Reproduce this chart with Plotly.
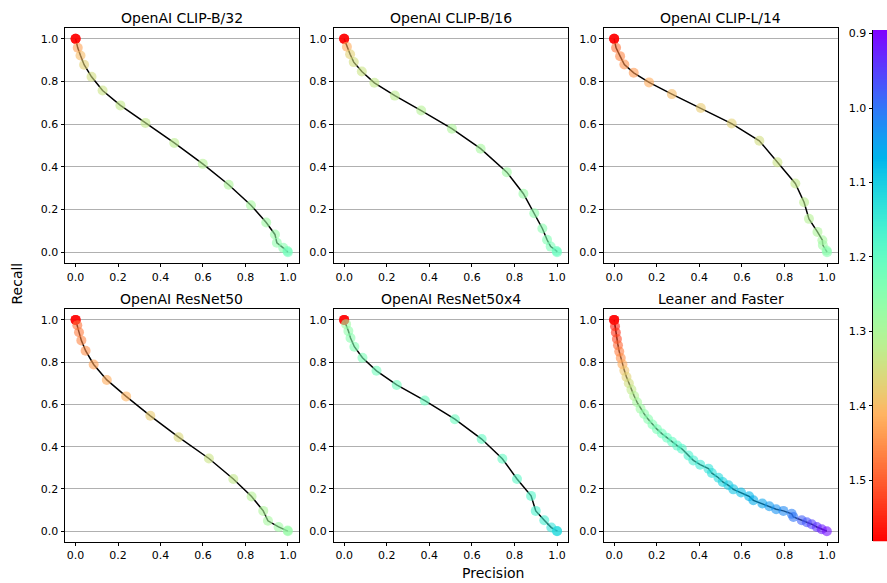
import numpy as np
import plotly.graph_objects as go

# ---------------- data ----------------
titles = ["OpenAI CLIP-B/32", "OpenAI CLIP-B/16", "OpenAI CLIP-L/14",
          "OpenAI ResNet50", "OpenAI ResNet50x4", "Leaner and Faster"]

b32_prec = [0.0, 0.0, 0.0, 0.01, 0.023, 0.04, 0.075, 0.127, 0.211, 0.329, 0.465, 0.599,
            0.721, 0.826, 0.898, 0.939, 0.948, 0.978, 0.998, 1.0]
b32_rec = [1.0, 1.0, 1.0, 0.958, 0.922, 0.879, 0.822, 0.758, 0.688, 0.606, 0.512, 0.414,
           0.316, 0.220, 0.139, 0.083, 0.044, 0.020, 0.005, 0.0]
b32_thr = [1.58, 1.58, 1.58, 1.43, 1.40, 1.37, 1.35, 1.34, 1.33, 1.33, 1.32, 1.31,
           1.30, 1.29, 1.28, 1.27, 1.26, 1.25, 1.23, 1.22]

b16_prec = [0.0, 0.0, 0.0, 0.013, 0.028, 0.045, 0.083, 0.142, 0.238, 0.362, 0.506, 0.641,
            0.764, 0.842, 0.893, 0.931, 0.953, 0.970, 0.998, 1.0]
b16_rec = [1.0, 1.0, 1.0, 0.963, 0.928, 0.891, 0.847, 0.794, 0.734, 0.664, 0.579, 0.485,
           0.375, 0.274, 0.182, 0.111, 0.058, 0.026, 0.005, 0.0]
b16_thr = [1.58, 1.58, 1.58, 1.42, 1.37, 1.35, 1.34, 1.33, 1.32, 1.31, 1.30, 1.29,
           1.28, 1.27, 1.26, 1.25, 1.24, 1.23, 1.21, 1.21]

l14_prec = [0.0, 0.0, 0.0, 0.009, 0.028, 0.048, 0.092, 0.164, 0.271, 0.407, 0.552, 0.682,
            0.767, 0.851, 0.892, 0.915, 0.955, 0.978, 0.980, 0.998, 1.0]
l14_rec = [1.0, 1.0, 1.0, 0.958, 0.919, 0.880, 0.841, 0.796, 0.741, 0.676, 0.603, 0.522,
           0.421, 0.322, 0.234, 0.156, 0.095, 0.056, 0.033, 0.008, 0.0]
l14_thr = [1.58, 1.58, 1.58, 1.48, 1.46, 1.45, 1.44, 1.42, 1.40, 1.38, 1.37, 1.35,
           1.34, 1.33, 1.32, 1.31, 1.30, 1.29, 1.28, 1.26, 1.25]

rn50_prec = [0.0, 0.0, 0.0, 0.008, 0.016, 0.027, 0.047, 0.085, 0.147, 0.238, 0.352, 0.485,
             0.628, 0.743, 0.829, 0.884, 0.906, 0.956, 0.999, 1.0]
rn50_rec = [1.0, 1.0, 1.0, 0.975, 0.942, 0.903, 0.854, 0.789, 0.716, 0.638, 0.546, 0.445,
            0.344, 0.247, 0.164, 0.096, 0.049, 0.020, 0.003, 0.0]
rn50_thr = [1.58, 1.58, 1.58, 1.48, 1.47, 1.46, 1.45, 1.43, 1.42, 1.41, 1.38, 1.36,
            1.34, 1.33, 1.31, 1.30, 1.29, 1.28, 1.27, 1.27]

rn50x4_prec = [0.0, 0.0, 0.0, 0.009, 0.020, 0.030, 0.048, 0.086, 0.152, 0.247, 0.379, 0.520,
               0.646, 0.743, 0.812, 0.878, 0.900, 0.940, 0.973, 1.0, 1.0]
rn50x4_rec = [1.0, 1.0, 1.0, 0.98, 0.947, 0.914, 0.873, 0.821, 0.759, 0.692, 0.618, 0.530,
              0.436, 0.343, 0.247, 0.167, 0.096, 0.052, 0.017, 0.001, 0.0]
rn50x4_thr = [1.58, 1.58, 1.58, 1.28, 1.26, 1.25, 1.24, 1.23, 1.22, 1.22, 1.21, 1.21,
              1.20, 1.20, 1.19, 1.18, 1.17, 1.16, 1.14, 1.12, 1.12]

lf_prec = [0.0, 0.0, 0.0, 0.004, 0.008, 0.013, 0.018, 0.024, 0.031, 0.039, 0.048, 0.058,
           0.069, 0.081, 0.094, 0.108, 0.124, 0.141, 0.160, 0.180, 0.201, 0.224,
           0.248, 0.272, 0.296,
           0.318, 0.349, 0.372, 0.404, 0.443, 0.459, 0.490, 0.510, 0.537, 0.560,
           0.596, 0.634, 0.654, 0.696, 0.729, 0.761, 0.795, 0.834, 0.842, 0.881,
           0.905, 0.928, 0.952, 0.975, 0.999]
lf_rec = [1.0, 1.0, 1.0, 0.97, 0.94, 0.91, 0.88, 0.85, 0.82, 0.79, 0.76, 0.73,
          0.70, 0.67, 0.64, 0.61, 0.58, 0.555, 0.53, 0.505, 0.483, 0.462,
          0.442, 0.423, 0.405,
          0.390, 0.358, 0.335, 0.315, 0.296, 0.275, 0.253, 0.233, 0.217, 0.198,
          0.183, 0.165, 0.146, 0.131, 0.118, 0.104, 0.096, 0.082, 0.067, 0.052,
          0.042, 0.033, 0.020, 0.009, 0.0]
lf_thr = [1.58, 1.58, 1.58, 1.56, 1.54, 1.52, 1.49, 1.47, 1.45, 1.42, 1.39, 1.37,
          1.35, 1.33, 1.31, 1.29, 1.28, 1.26, 1.25, 1.24, 1.23, 1.22,
          1.21, 1.20, 1.19,
          1.18, 1.17, 1.16, 1.15, 1.14, 1.13, 1.12, 1.11, 1.10, 1.09,
          1.08, 1.07, 1.06, 1.05, 1.04, 1.03, 1.02, 1.01, 1.00, 0.98,
          0.97, 0.95, 0.94, 0.92, 0.91]

series = [(b32_prec, b32_rec, b32_thr), (b16_prec, b16_rec, b16_thr),
          (l14_prec, l14_rec, l14_thr), (rn50_prec, rn50_rec, rn50_thr),
          (rn50x4_prec, rn50x4_rec, rn50x4_thr), (lf_prec, lf_rec, lf_thr)]

tick_vals = [0.0, 0.2, 0.4, 0.6, 0.8, 1.0]
cbar_ticks = [0.9, 1.0, 1.1, 1.2, 1.3, 1.4, 1.5]
VMIN, VMAX = 0.895, 1.582

# ---------------- style / layout helpers ----------------
FONT = "DejaVu Sans"
FW, FH = 887, 583


def px_x(px):
    return px / FW


def px_y(py):
    return 1 - py / FH


def rainbow(t):
    r = min(max(abs(2 * t - 0.5), 0.0), 1.0)
    g = min(max(np.sin(np.pi * t), 0.0), 1.0)
    b = min(max(np.cos(np.pi * t / 2), 0.0), 1.0)
    return f"rgb({int(round(r * 255))},{int(round(g * 255))},{int(round(b * 255))})"


colorscale = [[float(t), rainbow(t)] for t in np.linspace(0, 1, 41)]

col_px = [(65.0, 298.5), (333.5, 567.7), (603.5, 837.7)]
row_px = [(26.3, 261.7), (308.4, 541.6)]

fig = go.Figure()
annotations = []

for i, (px, rc, th) in enumerate(series):
    r, c = divmod(i, 3)
    n = i + 1
    xa = "x" if n == 1 else f"x{n}"
    ya = "y" if n == 1 else f"y{n}"
    fig.add_trace(go.Scatter(x=px, y=rc, mode="lines", xaxis=xa, yaxis=ya,
                             line=dict(color="black", width=1.5), showlegend=False,
                             hoverinfo="skip"))
    fig.add_trace(go.Scatter(x=px, y=rc, mode="markers", xaxis=xa, yaxis=ya,
                             marker=dict(size=10, color=th, colorscale=colorscale,
                                         cmin=VMIN, cmax=VMAX, opacity=0.6,
                                         line=dict(width=0)),
                             showlegend=False))
    x0, x1 = col_px[c]
    y0, y1 = row_px[r]
    axis_common = dict(showline=True, mirror=True, linecolor="black", linewidth=1,
                       ticks="outside", ticklen=3.5, tickwidth=1, tickcolor="black",
                       zeroline=False, tickfont=dict(family=FONT, size=11, color="black"),
                       range=[-0.05, 1.05], tickvals=tick_vals, tickformat=".1f")
    fig.layout[f"xaxis{'' if n == 1 else n}"] = dict(
        domain=[px_x(x0), px_x(x1)], anchor=ya, showgrid=False, **axis_common)
    fig.layout[f"yaxis{'' if n == 1 else n}"] = dict(
        domain=[px_y(y1), px_y(y0)], anchor=xa, showgrid=True,
        gridcolor="#b0b0b0", gridwidth=1, **axis_common)
    annotations.append(dict(text=titles[i], xref="paper", yref="paper",
                            x=px_x((x0 + x1) / 2), y=px_y(y0 - 10),
                            xanchor="center", yanchor="middle", showarrow=False,
                            font=dict(family=FONT, size=14, color="black")))

# colour bar drawn as a heatmap on its own axis (ticks on the left side)
cb_vals = np.linspace(VMIN, VMAX, 300)
fig.add_trace(go.Heatmap(z=[[float(v)] for v in cb_vals], y=[float(v) for v in cb_vals],
                         x=[0.0], colorscale=colorscale, zmin=VMIN, zmax=VMAX,
                         showscale=False, xaxis="x7", yaxis="y7", hoverinfo="skip"))
fig.layout["xaxis7"] = dict(domain=[px_x(873), 1.0], anchor="y7", visible=False,
                            range=[-0.5, 0.5], fixedrange=True)
fig.layout["yaxis7"] = dict(domain=[px_y(541), px_y(28)], anchor="x7",
                            range=[VMAX, VMIN], side="left", tickvals=cbar_ticks,
                            tickformat=".1f", ticks="outside", ticklen=3.5,
                            tickcolor="black", showline=True, linecolor="black",
                            linewidth=1, showgrid=False, zeroline=False,
                            tickfont=dict(family=FONT, size=11, color="black"))

annotations.append(dict(text="Recall", xref="paper", yref="paper", x=px_x(17.5),
                        y=px_y(283), textangle=-90, showarrow=False,
                        xanchor="center", yanchor="middle",
                        font=dict(family=FONT, size=14, color="black")))
annotations.append(dict(text="Precision", xref="paper", yref="paper", x=px_x(493),
                        y=px_y(573), showarrow=False, xanchor="center",
                        yanchor="middle", font=dict(family=FONT, size=14, color="black")))

fig.update_layout(width=FW, height=FH, margin=dict(l=0, r=0, t=0, b=0),
                  paper_bgcolor="white", plot_bgcolor="white",
                  annotations=annotations, showlegend=False)

fig.write_html("out.html", config={"displayModeBar": False},
               post_script="document.body.style.margin='0';"
                           "document.body.style.overflow='hidden';")
